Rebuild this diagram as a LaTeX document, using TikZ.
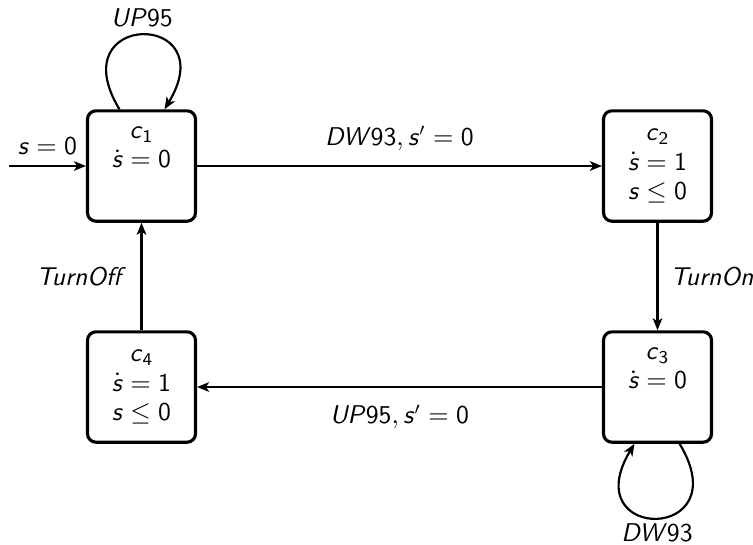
\documentclass[tikz,border=0pt]{standalone}
\usepackage{amsmath}
\usetikzlibrary{arrows.meta}
\newcommand{\mv}[1]{\textsf{\textit{#1}}}
\newcommand{\mn}[1]{\textsf{#1}}
\begin{document}
\begin{tikzpicture}[x=0.4167pt,y=-0.4167pt,
  every node/.style={font=\fontsize{10.7pt}{12.2pt}\selectfont},
  loc/.style={draw,line width=1.3pt,rounded corners=3.5pt,minimum width=45pt,minimum height=46pt,inner sep=0pt,align=center},
  tr/.style={line width=0.9pt,-{Stealth[length=5pt,width=4pt,inset=1.3pt]}},
  lab/.style={inner sep=0pt}]
\useasboundingbox (0,0) rectangle (753,544);
\node[loc] (c1) at (141.5,166) {$\mv{c}_{\mn{1}}$\\$\dot{\mv{s}} = \mn{0}$\\\strut};
\node[loc] (c2) at (657.5,166) {$\mv{c}_{\mn{2}}$\\$\dot{\mv{s}} = \mn{1}$\\$\mv{s} \le \mn{0}$};
\node[loc] (c3) at (657.5,387) {$\mv{c}_{\mn{3}}$\\$\dot{\mv{s}} = \mn{0}$\\\strut};
\node[loc] (c4) at (141.5,387) {$\mv{c}_{\mn{4}}$\\$\dot{\mv{s}} = \mn{1}$\\$\mv{s} \le \mn{0}$};
\coordinate (init) at (9,166);
\draw[tr] (init) -- (c1) node[lab,midway,above=4pt] {$\mv{s} = \mn{0}$};
\draw[tr] (c1) -- (c2) node[lab,midway,above=6pt] {$\mv{DW}\mn{93}, \mv{s}' = \mn{0}$};
\draw[tr] (c2) -- (c3) node[lab,midway,right=5pt] {$\mv{TurnOn}$};
\draw[tr] (c3) -- (c4) node[lab,midway,below=7pt] {$\mv{UP}\mn{95}, \mv{s}' = \mn{0}$};
\draw[tr] (c4) -- (c1) node[lab,midway,left=6pt] {$\mv{TurnOff}$};
\draw[tr] ([xshift=-9.2pt]c1.north) .. controls +(-60,-99) and +(60,-99) .. ([xshift=9.6pt]c1.north)
  node[lab,pos=0.5,above=3pt] {$\mv{UP}\mn{95}$};
\draw[tr] ([xshift=9.2pt]c3.south) .. controls +(60,99) and +(-60,99) .. ([xshift=-9.6pt]c3.south)
  node[lab,pos=0.5,below=2pt] {$\mv{DW}\mn{93}$};
\end{tikzpicture}
\end{document}
